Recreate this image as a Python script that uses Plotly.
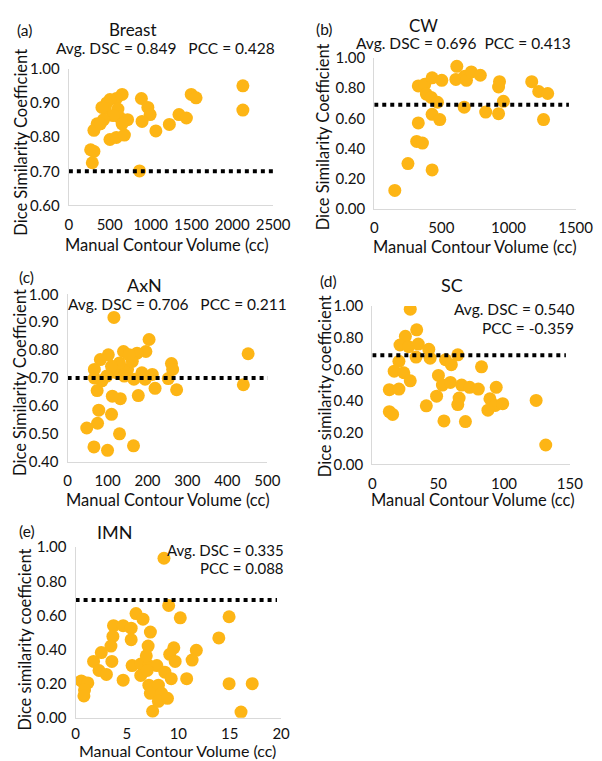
import plotly.graph_objects as go

W, H = 602, 761

# ---------------- data ----------------
breast_vol = [2130, 2130, 1498, 1557, 1348, 1439, 1230, 1065, 888, 967, 995, 896, 865,
              652, 582, 503, 464, 444, 601, 621, 719, 652, 542, 425, 346, 307, 503, 582,
              680, 267, 307, 287, 385, 405]
breast_dsc = [0.950, 0.879, 0.925, 0.915, 0.866, 0.856, 0.837, 0.818, 0.913, 0.887, 0.866,
              0.846, 0.701, 0.925, 0.913, 0.910, 0.900, 0.884, 0.882, 0.858, 0.851, 0.839,
              0.863, 0.851, 0.839, 0.820, 0.793, 0.799, 0.806, 0.763, 0.758, 0.725, 0.839,
              0.887]

cw_vol = [153, 251, 431, 316, 359, 328, 431, 488, 328, 376, 431, 503, 388, 424, 471, 615,
          608, 675, 687, 723, 790, 670, 830, 933, 926, 962, 926, 1173, 1225, 1292, 1261]
cw_dsc = [0.122, 0.300, 0.258, 0.447, 0.436, 0.570, 0.627, 0.592, 0.815, 0.826, 0.869,
          0.852, 0.761, 0.739, 0.707, 0.945, 0.858, 0.880, 0.852, 0.908, 0.886, 0.674,
          0.642, 0.843, 0.808, 0.713, 0.631, 0.843, 0.778, 0.765, 0.592]

axn_vol = [116, 452, 440, 204, 196, 174, 140, 102, 82, 67, 260, 263, 252, 212, 219, 273,
           194, 177, 132, 112, 74, 86, 122, 150, 162, 130, 110, 78, 110, 75, 48, 130, 66,
           100, 165, 142, 166, 186, 98, 67, 154]
axn_dsc = [0.917, 0.787, 0.676, 0.838, 0.795, 0.789, 0.795, 0.783, 0.766, 0.731, 0.752,
           0.731, 0.698, 0.713, 0.663, 0.658, 0.696, 0.637, 0.626, 0.635, 0.655, 0.690,
           0.719, 0.731, 0.760, 0.754, 0.742, 0.585, 0.570, 0.538, 0.521, 0.500, 0.453,
           0.441, 0.457, 0.707, 0.696, 0.719, 0.707, 0.700, 0.783]

sc_vol = [28.8, 33.7, 25.1, 21.0, 27.6, 34.9, 42.9, 43.9, 33.2, 55.6, 64.9, 60.0, 82.9,
          20.2, 16.6, 23.9, 28.8, 12.9, 20.2, 12.9, 15.4, 41.0, 50.2, 53.2, 48.8, 59.3,
          67.8, 73.9, 80.5, 65.9, 64.9, 54.4, 70.7, 94.1, 89.3, 93.4, 99.0, 87.8, 124.4,
          131.7]
sc_dsc = [0.98, 0.850, 0.809, 0.754, 0.743, 0.760, 0.727, 0.671, 0.678, 0.661, 0.692,
          0.630, 0.616, 0.651, 0.589, 0.579, 0.528, 0.472, 0.476, 0.333, 0.316, 0.370,
          0.562, 0.501, 0.431, 0.518, 0.501, 0.487, 0.476, 0.419, 0.378, 0.275, 0.271,
          0.487, 0.415, 0.373, 0.384, 0.343, 0.404, 0.123]

imn_vol = [8.6, 9.06, 10.19, 14.94, 13.94, 14.94, 17.19, 16.1, 7.5, 5.88, 6.56, 3.69, 4.63,
           5.41, 3.63, 5.41, 7.28, 3.44, 7.06, 9.56, 9.16, 11.75, 11.34, 9.69, 2.5, 1.75,
           3.53, 2.28, 3.0, 0.56, 1.19, 0.87, 0.81, 4.63, 5.5, 6.34, 7.13, 7.91, 8.69, 9.31,
           10.81, 6.34, 7.13, 8.06, 7.28, 8.37, 8.06, 8.94, 6.88, 6.97]
imn_dsc = [0.935, 0.658, 0.586, 0.592, 0.468, 0.200, 0.200, 0.033, 0.038, 0.611, 0.578,
           0.540, 0.540, 0.525, 0.477, 0.458, 0.502, 0.420, 0.420, 0.410, 0.372, 0.395,
           0.338, 0.330, 0.382, 0.330, 0.330, 0.277, 0.254, 0.216, 0.204, 0.163, 0.128,
           0.220, 0.306, 0.315, 0.306, 0.306, 0.267, 0.229, 0.229, 0.248, 0.191, 0.191,
           0.143, 0.143, 0.096, 0.114, 0.363, 0.277]

panel_names = ["Breast", "CW", "AxN", "SC", "IMN"]
panel_tags = ["(a)", "(b)", "(c)", "(d)", "(e)"]
avg_dsc = ["0.849", "0.696", "0.706", "0.540", "0.335"]
pcc = ["0.428", "0.413", "0.211", "-0.359", "0.088"]
threshold = [0.70, 0.69, 0.70, 0.69, 0.69]
threshold_xmax = [2500, 1450, 505, 147, 19.6]
x_ranges = [[0, 2500], [0, 1500], [0, 500], [0, 150], [0, 20]]
x_dticks = [500, 500, 100, 50, 5]
y_ranges = [[0.6, 1.0], [0, 1.0], [0.4, 1.0], [0, 1.0], [0, 1.0]]
y_dticks = [0.1, 0.2, 0.1, 0.2, 0.2]
y_titles = ["Dice Similarity Coefficient"] * 3 + ["Dice similarity coefficient"] * 2
x_title = "Manual Contour Volume (cc)"

vols = [breast_vol, cw_vol, axn_vol, sc_vol, imn_vol]
dscs = [breast_dsc, cw_dsc, axn_dsc, sc_dsc, imn_dsc]

# ---------------- layout (pixel geometry) ----------------
# plot box: left, right, top, bottom (pixels)
boxes = [(59, 271, 52, 192), (376, 585, 41, 195.5), (57.7, 265, 283, 454.5),
         (374, 579, 295, 457.3), (66, 279.3, 542, 716.7)]
x_standoff = [5, 5, 5, 5, 2]
FONT = "Lato, 'Open Sans', sans-serif"
MARKER = "#FDB515"
TXT = "#111111"


def px(p):
    return p / W


def py(p):
    return 1 - p / H


fig = go.Figure()
ann = []
layout = {}
for i in range(5):
    n = "" if i == 0 else str(i + 1)
    xa, ya = "x" + n, "y" + n
    fig.add_trace(go.Scatter(x=vols[i], y=dscs[i], mode="markers", xaxis=xa, yaxis=ya,
                             marker=dict(size=13, color=MARKER, line=dict(width=0)),
                             showlegend=False, hoverinfo="x+y"))
    fig.add_trace(go.Scatter(x=[0, threshold_xmax[i]], y=[threshold[i]] * 2, mode="lines",
                             xaxis=xa, yaxis=ya,
                             line=dict(color="black", width=4, dash="dot"),
                             showlegend=False, hoverinfo="skip"))
    l, r, t, b = boxes[i]
    layout["xaxis" + n] = dict(domain=[px(l), px(r)], range=x_ranges[i], dtick=x_dticks[i],
                               tick0=0, anchor=ya, showgrid=False, zeroline=False,
                               showline=True, linecolor="#D9D9D9", linewidth=1.3,
                               ticks="", ticklen=0, ticklabelstandoff=x_standoff[i],
                               tickfont=dict(size=15, color=TXT, family=FONT))
    layout["yaxis" + n] = dict(domain=[py(b), py(t)], range=y_ranges[i], dtick=y_dticks[i],
                               tick0=0, anchor=xa, showgrid=False, zeroline=False,
                               showline=True, linecolor="#D9D9D9", linewidth=1.3,
                               tickformat=".2f", ticks="", ticklen=0, ticklabelstandoff=5,
                               tickfont=dict(size=15, color=TXT, family=FONT))


def add_text(text, x, y, size=15, xanchor="center", yanchor="middle", angle=0):
    ann.append(dict(text=text, x=px(x), y=py(y), xref="paper", yref="paper",
                    xanchor=xanchor, yanchor=yanchor, showarrow=False, textangle=angle,
                    font=dict(size=size, color=TXT, family=FONT)))


sp = "\u00a0"
# tags
tag_pos = [(3, 12), (313, 11), (5, 265), (318, 269), (5, 525)]
name_pos = [(126, 12), (427, 8), (138, 273), (457, 273), (107, 526)]
name_size = [17, 17, 18, 18, 18]
for i in range(5):
    add_text(panel_tags[i], tag_pos[i][0], tag_pos[i][1], size=15.5, xanchor="left")
    add_text(panel_names[i], name_pos[i][0], name_pos[i][1], size=name_size[i])

# stats
add_text(f"Avg. DSC = {avg_dsc[0]}{sp*3}PCC = {pcc[0]}", 159, 31, size=15.5)
add_text(f"Avg. DSC = {avg_dsc[1]}{sp*2}PCC = {pcc[1]}", 469, 26, size=15.5)
add_text(f"Avg. DSC = {avg_dsc[2]}{sp*3}PCC = {pcc[2]}", 172, 293, size=15.5)
add_text(f"Avg. DSC = {avg_dsc[3]}", 585, 298, size=15.5, xanchor="right")
add_text(f"PCC = {pcc[3]}", 585, 318, size=15.5, xanchor="right")
add_text(f"Avg. DSC = {avg_dsc[4]}", 284, 545, size=15, xanchor="right")
add_text(f"PCC = {pcc[4]}", 284, 563, size=15, xanchor="right")

# axis titles
xt_pos = [(161, 233), (481, 235), (162, 494), (479, 494), (172, 750.5)]
yt_pos = [(9, 127), (323, 122), (8, 373), (325, 377), (13, 637)]
for i in range(5):
    add_text(x_title, xt_pos[i][0], xt_pos[i][1], size=16.5 if i != 4 else 16)
    add_text(y_titles[i], yt_pos[i][0], yt_pos[i][1], size=16.5, angle=-90)

fig.update_layout(width=W, height=H, margin=dict(l=0, r=0, t=0, b=0),
                  paper_bgcolor="white", plot_bgcolor="white", annotations=ann,
                  font=dict(family=FONT, color=TXT), **layout)

fig.write_html("out.html")
